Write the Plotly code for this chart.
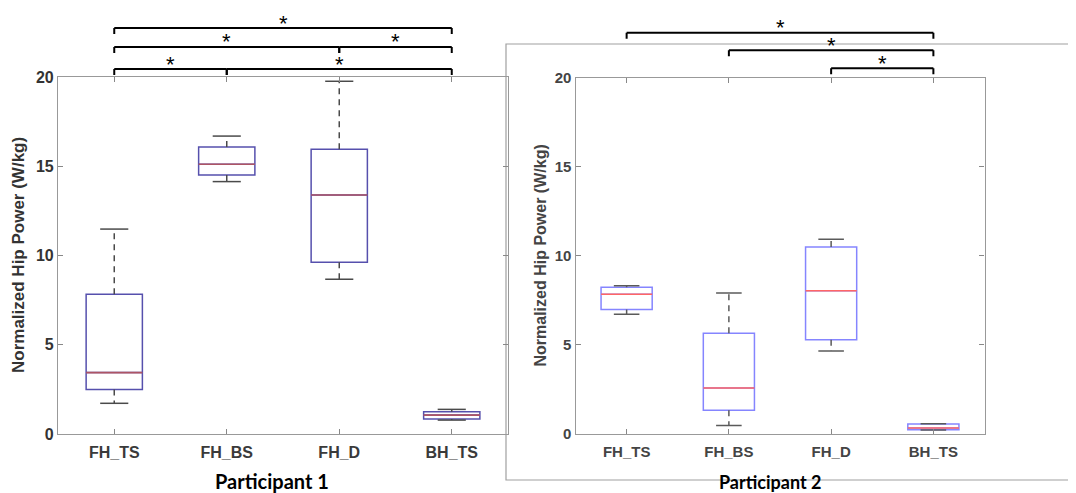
import plotly.graph_objects as go

# page body has an 8px default margin; figure sized to fill the rest of the window
OFF = 8
W, H = 1076 - OFF, 493 - OFF

categories = ["FH_TS", "FH_BS", "FH_D", "BH_TS"]
cat_pos = [1, 2, 3, 4]

# Participant 1 box statistics (W/kg)
p1_lower = [1.72, 14.14, 8.67, 0.78]
p1_q1 = [2.50, 14.51, 9.62, 0.84]
p1_median = [3.44, 15.11, 13.39, 1.06]
p1_q3 = [7.83, 16.08, 15.95, 1.25]
p1_upper = [11.48, 16.69, 19.76, 1.38]

# Participant 2 box statistics (W/kg)
p2_lower = [6.72, 0.47, 4.66, 0.22]
p2_q1 = [6.98, 1.33, 5.29, 0.24]
p2_median = [7.84, 2.58, 8.04, 0.34]
p2_q3 = [8.23, 5.65, 10.49, 0.56]
p2_upper = [8.31, 7.91, 10.93, 0.58]

# significance pairs (category index 1-based) and level
p1_pairs = [(1, 2, 0), (2, 4, 0), (1, 3, 1), (3, 4, 1), (1, 4, 2)]
p2_pairs = [(1, 4, 0), (2, 4, 1), (3, 4, 2)]

y_ticks = [0, 5, 10, 15, 20]
y_range = [0, 20]

def px_x(p):
    return (p - OFF) / W

def px_y(p):
    return 1 - (p - OFF) / H

fig = go.Figure()

panels = [
    dict(xa="x", ya="y", lower=p1_lower, q1=p1_q1, med=p1_median, q3=p1_q3, upper=p1_upper,
         box="#5650ad", medc="#ad5565", wh="#4a4a4a"),
    dict(xa="x2", ya="y2", lower=p2_lower, q1=p2_q1, med=p2_median, q3=p2_q3, upper=p2_upper,
         box="#8585ff", medc="#ff6666", wh="#5a5a5a"),
]

for p in panels:
    fig.add_trace(go.Box(
        x=cat_pos, q1=p["q1"], median=p["med"], q3=p["q3"],
        lowerfence=p["q1"], upperfence=p["q3"],
        width=0.5, whiskerwidth=0, fillcolor="rgba(0,0,0,0)",
        line=dict(color=p["box"], width=1.5), marker=dict(opacity=0),
        boxpoints=False, xaxis=p["xa"], yaxis=p["ya"], showlegend=False, hoverinfo="skip"))
    # dashed whiskers
    wx, wy = [], []
    for i, c in enumerate(cat_pos):
        wx += [c, c, None, c, c, None]
        wy += [p["q3"][i], p["upper"][i], None, p["q1"][i], p["lower"][i], None]
    fig.add_trace(go.Scatter(x=wx, y=wy, mode="lines", line=dict(color=p["wh"], width=1.5, dash="6px,5px"),
                             xaxis=p["xa"], yaxis=p["ya"], showlegend=False, hoverinfo="skip"))
    # caps
    cx, cy = [], []
    for i, c in enumerate(cat_pos):
        for v in (p["upper"][i], p["lower"][i]):
            cx += [c - 0.125, c + 0.125, None]
            cy += [v, v, None]
    fig.add_trace(go.Scatter(x=cx, y=cy, mode="lines", line=dict(color=p["wh"], width=1.5),
                             xaxis=p["xa"], yaxis=p["ya"], showlegend=False, hoverinfo="skip"))
    # medians
    mx, my = [], []
    for i, c in enumerate(cat_pos):
        mx += [c - 0.25, c + 0.25, None]
        my += [p["med"][i], p["med"][i], None]
    fig.add_trace(go.Scatter(x=mx, y=my, mode="lines", line=dict(color=p["medc"], width=1.6),
                             xaxis=p["xa"], yaxis=p["ya"], showlegend=False, hoverinfo="skip"))

ax_common = dict(range=[0.5, 4.5], tickvals=cat_pos, ticktext=categories, ticks="inside", ticklen=5,
                 tickcolor="#888", showline=True, linecolor="#999", linewidth=1.2, mirror="ticks",
                 showgrid=False, zeroline=False, automargin=False, ticklabelstandoff=4)
ay_common = dict(range=y_range, tickvals=y_ticks, ticks="inside", ticklen=5, tickcolor="#888",
                 showline=True, linecolor="#999", linewidth=1.2, mirror="ticks",
                 showgrid=False, zeroline=False, automargin=False)

fig.update_layout(
    width=W, height=H, margin=dict(l=0, r=0, t=0, b=0),
    paper_bgcolor="white", plot_bgcolor="white",
    xaxis=dict(domain=[px_x(58), px_x(508)], anchor="y",
               tickfont=dict(family="Liberation Sans", size=16, color="#3a3a3a", weight="bold"), **ax_common),
    yaxis=dict(domain=[px_y(434), px_y(77)], anchor="x",
               tickfont=dict(family="Liberation Sans", size=16, color="#333", weight="bold"), **ay_common),
    xaxis2=dict(domain=[px_x(575.5), px_x(984.5)], anchor="y2",
                tickfont=dict(family="Liberation Sans", size=15, color="#444", weight="bold"), **ax_common),
    yaxis2=dict(domain=[px_y(434), px_y(77.5)], anchor="x2",
                tickfont=dict(family="Liberation Sans", size=15, color="#444", weight="bold"), **ay_common),
)

shapes = []
annotations = []

# outer frame of second panel image
shapes.append(dict(type="rect", xref="paper", yref="paper", x0=px_x(506), x1=1.02, y0=px_y(480), y1=px_y(44),
                   line=dict(color="#a0a0a0", width=1.2), fillcolor="rgba(0,0,0,0)", layer="below"))

def add_brackets(pairs, xref, levels_y, star_dy, tick_len=6):
    for a, b, lvl in pairs:
        yl = levels_y[lvl]
        shapes.append(dict(type="line", xref=xref, yref="paper", x0=a, x1=b,
                           y0=px_y(yl), y1=px_y(yl), line=dict(color="black", width=2)))
        for e in (a, b):
            shapes.append(dict(type="line", xref=xref, yref="paper", x0=e, x1=e,
                               y0=px_y(yl), y1=px_y(yl + tick_len), line=dict(color="black", width=2)))
        annotations.append(dict(x=(a + b) / 2, y=px_y(yl - star_dy), xref=xref, yref="paper",
                                text="*", showarrow=False, font=dict(family="Liberation Sans", size=22, color="black"),
                                xanchor="center", yanchor="middle"))

add_brackets(p1_pairs, "x", {0: 69, 1: 47, 2: 28}, 5)
add_brackets(p2_pairs, "x2", {0: 32.7, 1: 50.3, 2: 68.3}, 5)

# y axis titles
annotations.append(dict(x=px_x(18.5), y=px_y(255.5), xref="paper", yref="paper", text="Normalized Hip Power (W/kg)",
                        textangle=-90, showarrow=False, xanchor="center", yanchor="middle",
                        font=dict(family="Liberation Sans", size=17, color="#333", weight="bold")))
annotations.append(dict(x=px_x(540), y=px_y(255.5), xref="paper", yref="paper", text="Normalized Hip Power (W/kg)",
                        textangle=-90, showarrow=False, xanchor="center", yanchor="middle",
                        font=dict(family="Liberation Sans", size=16, color="#444", weight="bold")))
# participant labels
annotations.append(dict(x=px_x(272), y=px_y(481), xref="paper", yref="paper", text="Participant 1", showarrow=False,
                        xanchor="center", yanchor="middle",
                        font=dict(family="Lato", size=20, color="black", weight="bold")))
annotations.append(dict(x=px_x(770), y=px_y(482), xref="paper", yref="paper", text="Participant 2", showarrow=False,
                        xanchor="center", yanchor="middle",
                        font=dict(family="Lato", size=18, color="black", weight="bold")))

fig.update_layout(shapes=shapes, annotations=annotations)
fig.write_html("out.html")
